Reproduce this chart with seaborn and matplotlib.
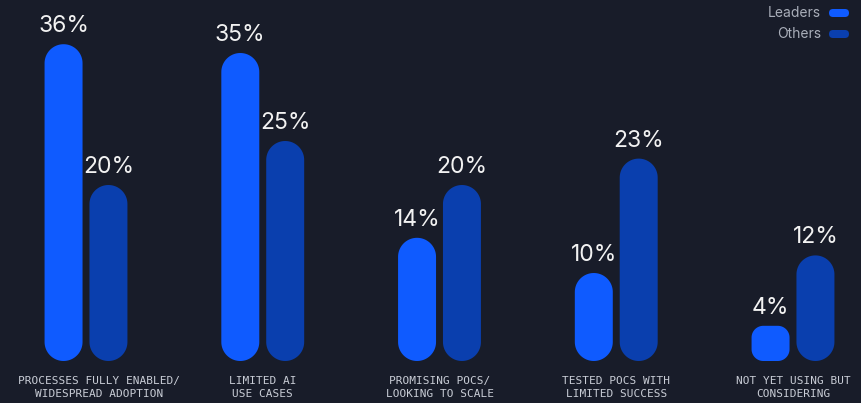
import matplotlib
matplotlib.use("Agg")
import matplotlib.pyplot as plt
import matplotlib.transforms as mtransforms
from matplotlib.patches import FancyBboxPatch, Polygon
import seaborn as sns
import pandas as pd
import numpy as np

categories = [
    "PROCESSES FULLY ENABLED/\nWIDESPREAD ADOPTION",
    "LIMITED AI\nUSE CASES",
    "PROMISING POCS/\nLOOKING TO SCALE",
    "TESTED POCS WITH\nLIMITED SUCCESS",
    "NOT YET USING BUT\nCONSIDERING",
]
series_names = ["Leaders", "Others"]
leaders = [36, 35, 14, 10, 4]
others = [20, 25, 20, 23, 12]

BG = "#181c29"
COLORS = {"Leaders": "#0f5bff", "Others": "#0a3fae"}

df = pd.DataFrame({
    "category": categories * 2,
    "series": ["Leaders"] * len(categories) + ["Others"] * len(categories),
    "value": leaders + others,
})

sns.set_theme(style="white")
plt.rcParams["font.family"] = ["Inter", "DejaVu Sans"]

W, H = 861, 403
fig = plt.figure(figsize=(W / 100, H / 100), dpi=100, facecolor=BG)
base_px = 361          # baseline from top
px_per_unit_y = 8.8
first_px, spacing_px = 86, 176.75
ax = fig.add_axes([0, (H - base_px) / H, 1, base_px / H])
ax.set_facecolor(BG)

sns.barplot(data=df, x="category", y="value", hue="series", order=categories,
            hue_order=series_names, palette=COLORS, width=0.508, gap=0.154,
            legend=False, ax=ax, errorbar=None, saturation=1)

ax.set_xlim(-first_px / spacing_px, (W - first_px) / spacing_px)
ax.set_ylim(0, base_px / px_per_unit_y)

x_upp = 1 / spacing_px      # x data units per pixel
y_upp = 1 / px_per_unit_y   # y data units per pixel


def rounded_rect(x0, w, h, r_px, n=24):
    rx, ry = r_px * x_upp, r_px * y_upp
    pts = []
    corners = [
        (x0 + w - rx, h - ry, 0, 90),
        (x0 + rx, h - ry, 90, 180),
        (x0 + rx, ry, 180, 270),
        (x0 + w - rx, ry, 270, 360),
    ]
    for cx, cy, a0, a1 in corners:
        t = np.radians(np.linspace(a0, a1, n))
        pts.extend(zip(cx + rx * np.cos(t), cy + ry * np.sin(t)))
    return pts


bars = list(ax.patches)
for p in bars:
    x0, w, h = p.get_x(), p.get_width(), p.get_height()
    fc = p.get_facecolor()
    p.remove()
    w_px = w / x_upp
    h_px = h / y_upp
    r_px = min(w_px / 2, h_px / 3)
    ax.add_patch(Polygon(rounded_rect(x0, w, h, r_px), closed=True,
                         facecolor=fc, edgecolor="none", linewidth=0))
    ax.annotate(f"{h:.0f}%", xy=(x0 + w / 2, h), xytext=(0, 8.6),
                textcoords="offset points", ha="center", va="baseline",
                fontsize=16.5, color="#f2f2f2", family=["Inter", "DejaVu Sans"])

for s in ax.spines.values():
    s.set_visible(False)
ax.set_xlabel("")
ax.set_ylabel("")
ax.set_yticks([])
ax.tick_params(axis="x", length=0, pad=11)
ax.set_xticks(range(len(categories)))
ax.set_xticklabels(categories, family=["DejaVu Sans Mono"], fontsize=8,
                   color="#c9cdd6", linespacing=1.3)
lbl0 = ax.get_xticklabels()[0]
lbl0.set_transform(lbl0.get_transform() +
                   mtransforms.ScaledTranslation(13 / 100, 0, fig.dpi_scale_trans))

# legend
for i, name in enumerate(series_names):
    yc = 13 + 21 * i
    fig.text(821 / W, 1 - yc / H, name, ha="right", va="center", fontsize=10,
             color="#a9aeb9", family=["Inter", "DejaVu Sans"])
    pw, ph = 20, 8
    fig.patches.append(FancyBboxPatch((829 / W, 1 - (yc + ph / 2) / H), pw / W, ph / H,
                                      boxstyle=f"round,pad=0,rounding_size={(ph / 2) / W}",
                                      mutation_aspect=W / H, transform=fig.transFigure,
                                      facecolor=COLORS[name], edgecolor="none", figure=fig))

fig.savefig("out.png", dpi=100, facecolor=BG)
